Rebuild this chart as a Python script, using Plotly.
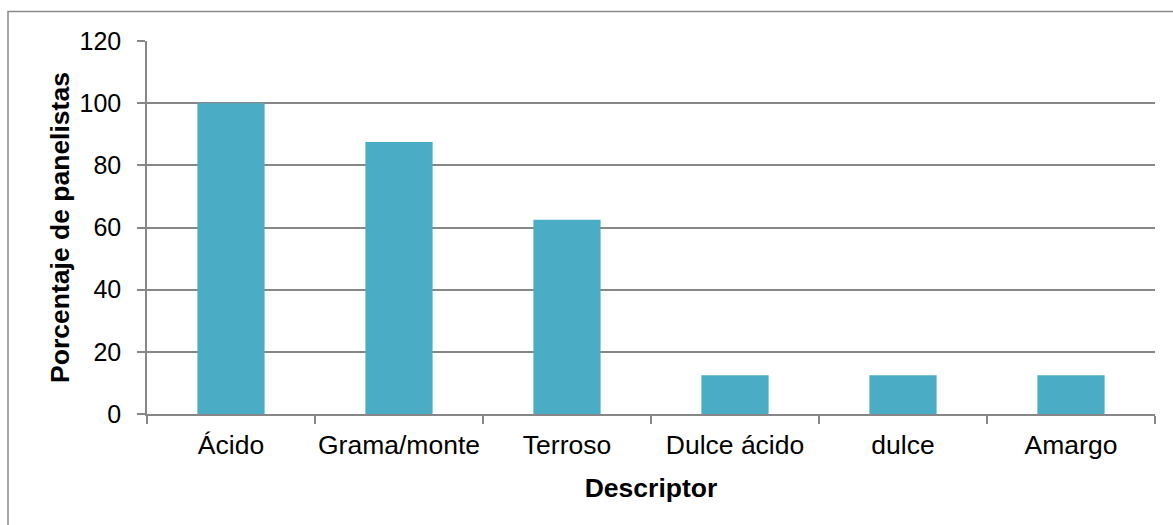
import plotly.graph_objects as go

# Descriptores de sabor y porcentaje de panelistas que los mencionaron
descriptores = ["Ácido", "Grama/monte", "Terroso", "Dulce ácido", "dulce", "Amargo"]
porcentaje = [100, 87.5, 62.5, 12.5, 12.5, 12.5]
y_ticks = [0, 20, 40, 60, 80, 100, 120]

W, H = 1173, 525
L, R, T, B = 147, 18, 41, 111
pw, ph = W - L - R, H - T - B

gris = "#878787"
fuente = "Liberation Sans, Arial, sans-serif"

fig = go.Figure(
    go.Bar(
        x=descriptores,
        y=porcentaje,
        marker=dict(color="#4BACC6", line=dict(width=0)),
        hoverinfo="x+y",
    )
)

# marco exterior del gráfico (en píxeles convertidos a coordenadas de papel)
def px_x(p):
    return (p - L) / pw

def px_y(p):
    return (H - B - p) / ph

fig.add_shape(
    type="rect", xref="paper", yref="paper",
    x0=px_x(8), x1=px_x(W + 20), y0=px_y(H + 20), y1=px_y(11.5),
    line=dict(color="#8a8a8a", width=1.5), fillcolor="rgba(0,0,0,0)", layer="below",
)

fig.update_layout(
    width=W, height=H,
    margin=dict(l=L, r=R, t=T, b=B),
    paper_bgcolor="white", plot_bgcolor="white",
    bargap=0.6,
    showlegend=False,
    font=dict(family=fuente, size=25, color="black"),
    xaxis=dict(
        title=dict(text="<b>Descriptor</b>", font=dict(size=26.5), standoff=20),
        tickfont=dict(size=26.5), tickangle=0, automargin=False,
        ticklabelstandoff=6,
        showline=True, linecolor=gris, linewidth=1.5,
        ticks="outside", tickson="boundaries", ticklen=8, tickcolor=gris, tickwidth=1.5,
        showgrid=False,
    ),
    yaxis=dict(
        title=dict(text="<b>Porcentaje de panelistas</b>", font=dict(size=26.5), standoff=2),
        range=[0, 120], tickvals=y_ticks, automargin=False,
        tickfont=dict(size=25),
        showline=True, linecolor=gris, linewidth=1.5,
        ticks="outside", ticklen=8, tickcolor=gris, tickwidth=1.5,
        ticklabelstandoff=11,
        showgrid=True, gridcolor=gris, gridwidth=1.5,
        zeroline=False,
    ),
)

fig.write_html("out.html")
